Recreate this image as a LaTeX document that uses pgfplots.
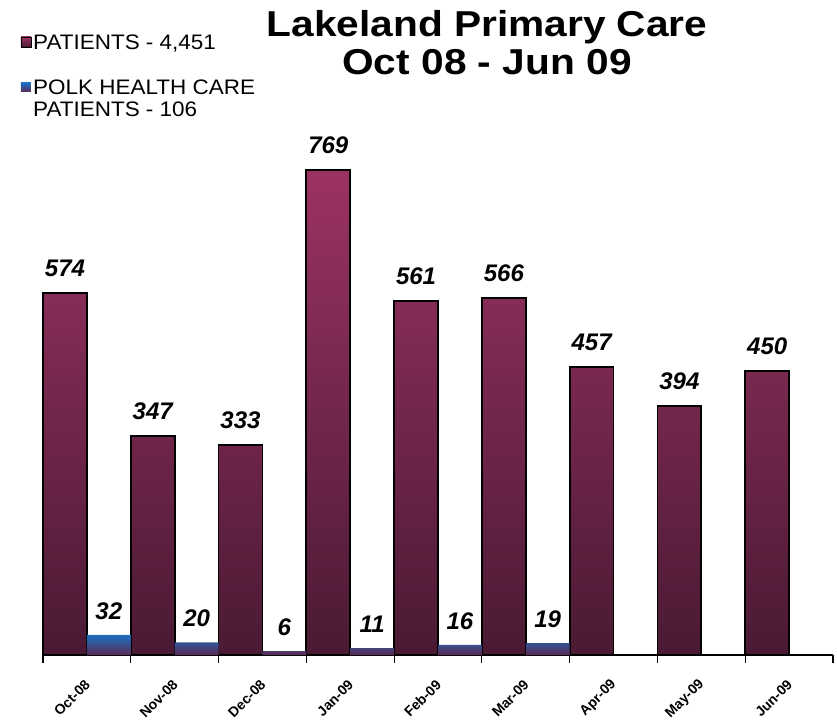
\documentclass[border=0pt]{standalone}
\usepackage{fontspec}
\setmainfont{Liberation Sans}
\usepackage{pgfplots}
\pgfplotsset{compat=1.18}
\definecolor{patTop}{HTML}{9B3264}
\definecolor{patBot}{HTML}{4A1A34}
\definecolor{polkTop}{HTML}{1C70C0}
\definecolor{polkBot}{HTML}{5B2A55}

\begin{document}
\begin{tikzpicture}
\begin{axis}[
  at={(0,0)}, anchor=origin,
  scale only axis, width=790pt, height=631pt,
  xmin=0, xmax=9, ymin=0, ymax=1000,
  axis x line=bottom, axis y line=none,
  x axis line style={-, line width=1.5pt},
  xtick={0.5,1.5,...,8.5},
  xticklabels={Oct-08,Nov-08,Dec-08,Jan-09,Feb-09,Mar-09,Apr-09,May-09,Jun-09},
  major tick length=0pt,
  minor xtick={0,1,...,9},
  minor tick length=8pt,
  tick align=outside,
  minor tick style={line width=1.2pt, black},
  x tick label style={xshift=3pt, yshift=-25pt, rotate=45, anchor=east,
    font=\bfseries\fontsize{14}{14}\selectfont},
  ytick=\empty,
  clip=false,
  ybar, bar width=0.5, bar shift=0pt,
  nodes near coords,
  nodes near coords style={font=\bfseries\itshape\fontsize{24}{24}\selectfont,
    anchor=south, yshift=12pt, black,
    /pgf/number format/assume math mode=true},
]
\addplot[draw=black, line width=1.8pt, top color=patTop, bottom color=patBot]
  coordinates {(0.25,574) (1.25,347) (2.25,333) (3.25,769) (4.25,561)
               (5.25,566) (6.25,457) (7.25,394) (8.25,450)};
\addplot[draw=none, top color=polkTop, middle color=polkTop!75!polkBot, bottom color=polkBot]
  coordinates {(0.75,32) (1.75,20) (2.75,6) (3.75,11) (4.75,16) (5.75,19)};
\end{axis}

% title
\node[font=\bfseries\fontsize{36}{38}\selectfont, anchor=base]
  at (444pt,618pt) {\scalebox{1.13}[1]{Lakeland Primary Care}};
\node[font=\bfseries\fontsize{36}{38}\selectfont, anchor=base]
  at (444pt,580pt) {\scalebox{1.13}[1]{Oct 08 - Jun 09}};

% legend
\fill[top color=patTop, bottom color=patBot, draw=black, line width=0.8pt]
  (-22pt,608pt) rectangle (-12pt,618pt);
\node[font=\fontsize{21}{22}\selectfont, anchor=base west, inner sep=0pt]
  at (-10pt,605pt) {\scalebox{1.07}[1]{PATIENTS - 4,451}};
\fill[top color=polkTop, bottom color=polkBot]
  (-22pt,563pt) rectangle (-12pt,572pt);
\node[font=\fontsize{21}{22}\selectfont, anchor=base west, inner sep=0pt]
  at (-10pt,560pt) {\scalebox{1.07}[1]{POLK HEALTH CARE}};
\node[font=\fontsize{21}{22}\selectfont, anchor=base west, inner sep=0pt]
  at (-10pt,538pt) {\scalebox{1.07}[1]{PATIENTS - 106}};

\pgfresetboundingbox
\path[use as bounding box] (-43pt,-67pt) rectangle (794pt,655pt);
\end{tikzpicture}
\end{document}
